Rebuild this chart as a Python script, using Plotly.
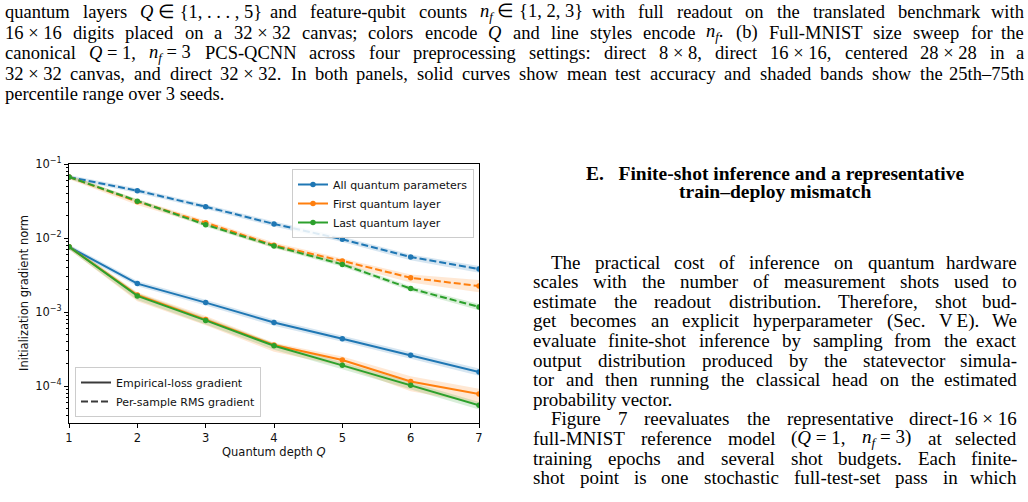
import re
import plotly.graph_objects as go

# ---------------- data ----------------
depth = [1, 2, 3, 4, 5, 6, 7]

# Empirical-loss gradient (solid curves)
all_emp = [0.0076, 0.00242, 0.00134, 0.00072, 0.000436, 0.00026, 0.000155]
all_emp_lo = [0.0070, 0.00222, 0.00122, 0.00065, 0.000395, 0.000235, 0.000138]
all_emp_hi = [0.0082, 0.00262, 0.00146, 0.00079, 0.000478, 0.000285, 0.000172]
first_emp = [0.0076, 0.00170, 0.00079, 0.000358, 0.000224, 0.000115, 0.000078]
first_emp_lo = [0.0070, 0.00140, 0.00066, 0.000290, 0.000185, 0.000085, 0.000058]
first_emp_hi = [0.0082, 0.00185, 0.00088, 0.000385, 0.000250, 0.000135, 0.000092]
last_emp = [0.0076, 0.00165, 0.00077, 0.000350, 0.000190, 0.000102, 0.000055]
last_emp_lo = [0.0070, 0.00145, 0.00068, 0.000310, 0.000168, 0.000090, 0.000048]
last_emp_hi = [0.0082, 0.00180, 0.00084, 0.000380, 0.000210, 0.000113, 0.000061]

# Per-sample RMS gradient (dashed curves)
all_rms = [0.0667, 0.0436, 0.0265, 0.0155, 0.0096, 0.00553, 0.0038]
all_rms_lo = [0.0625, 0.0405, 0.0246, 0.0143, 0.0088, 0.0050, 0.0034]
all_rms_hi = [0.0710, 0.0468, 0.0284, 0.0167, 0.0104, 0.0060, 0.0042]
first_rms = [0.0667, 0.0310, 0.0161, 0.0080, 0.0049, 0.0029, 0.00224]
first_rms_lo = [0.0620, 0.0280, 0.0148, 0.0073, 0.0044, 0.0025, 0.00185]
first_rms_hi = [0.0710, 0.0335, 0.0172, 0.0087, 0.0053, 0.0032, 0.0027]
last_rms = [0.0667, 0.0315, 0.0151, 0.0078, 0.0044, 0.00207, 0.00117]
last_rms_lo = [0.0630, 0.0298, 0.0142, 0.0073, 0.0041, 0.00192, 0.00106]
last_rms_hi = [0.0705, 0.0332, 0.0160, 0.0083, 0.0047, 0.00222, 0.00128]

series_names = ["All quantum parameters", "First quantum layer", "Last quantum layer"]
style_names = ["Empirical-loss gradient", "Per-sample RMS gradient"]
x_ticks = [1, 2, 3, 4, 5, 6, 7]
y_ticks = [1e-4, 1e-3, 1e-2, 1e-1]
y_ticktext = ["10<sup>−4</sup>", "10<sup>−3</sup>", "10<sup>−2</sup>", "10<sup>−1</sup>"]
y_minor_ticks = [m * 10.0 ** e for e in (-5, -4, -3, -2) for m in range(2, 10)]

caption_lines = [
    "quantum layers <i>Q</i>~∈~{1,~.~.~.~,~5} and feature-qubit counts <i>n<sub>f</sub></i>~∈~{1,~2,~3} with full readout on the translated benchmark with",
    "16~×~16 digits placed on a 32~×~32 canvas; colors encode <i>Q</i> and line styles encode <i>n<sub>f</sub></i>. (b) Full-MNIST size sweep for the",
    "canonical <i>Q</i>~=~1, <i>n<sub>f</sub></i>~=~3 PCS-QCNN across four preprocessing settings: direct 8~×~8, direct 16~×~16, centered 28~×~28 in a",
    "32~×~32 canvas, and direct 32~×~32. In both panels, solid curves show mean test accuracy and shaded bands show the 25th–75th",
    "percentile range over 3 seeds.",
]
heading_lines = ["E.\u00a0\u00a0\u00a0Finite-shot inference and a representative", "train–deploy mismatch"]
body_lines = [
    "The practical cost of inference on quantum hardware",
    "scales with the number of measurement shots used to",
    "estimate the readout distribution. Therefore, shot bud-",
    "get becomes an explicit hyperparameter (Sec. V\u2009E). We",
    "evaluate finite-shot inference by sampling from the exact",
    "output distribution produced by the statevector simula-",
    "tor and then running the classical head on the estimated",
    "probability vector.",
    "Figure 7 reevaluates the representative direct-16~×~16",
    "full-MNIST reference model (<i>Q</i>~=~1, <i>n<sub>f</sub></i>~=~3) at selected",
    "training epochs and several shot budgets. Each finite-",
    "shot point is one stochastic full-test-set pass in which",
]
body_indent = [True, False, False, False, False, False, False, False, True, False, False, False]
body_justify = [True, True, True, True, True, True, True, False, True, True, True, True]

# ---------------- layout geometry ----------------
W, H = 1028, 502
PL, PR, PT, PB = 69, 479, 164, 423


def fx(px):
    return (px - PL) / (PR - PL)


def fy(py):
    return (PB - py) / (PB - PT)


colors = ["#1f77b4", "#ff7f0e", "#2ca02c"]
fills = ["rgba(31,119,180,0.18)", "rgba(255,127,14,0.18)", "rgba(44,160,44,0.18)"]

fig = go.Figure()

emp = [(all_emp, all_emp_lo, all_emp_hi), (first_emp, first_emp_lo, first_emp_hi),
       (last_emp, last_emp_lo, last_emp_hi)]
rms = [(all_rms, all_rms_lo, all_rms_hi), (first_rms, first_rms_lo, first_rms_hi),
       (last_rms, last_rms_lo, last_rms_hi)]

# bands
for group in (emp, rms):
    for i, (m, lo, hi) in enumerate(group):
        fig.add_trace(go.Scatter(x=depth, y=lo, mode="lines", line=dict(width=0),
                                 showlegend=False, hoverinfo="skip"))
        fig.add_trace(go.Scatter(x=depth, y=hi, mode="lines", line=dict(width=0),
                                 fill="tonexty", fillcolor=fills[i],
                                 showlegend=False, hoverinfo="skip"))

# mean curves
for i, (m, lo, hi) in enumerate(emp):
    fig.add_trace(go.Scatter(x=depth, y=m, mode="lines+markers", name=series_names[i],
                             line=dict(color=colors[i], width=2),
                             marker=dict(size=5.5, color=colors[i]),
                             legend="legend"))
for i, (m, lo, hi) in enumerate(rms):
    fig.add_trace(go.Scatter(x=depth, y=m, mode="lines+markers", name=series_names[i],
                             line=dict(color=colors[i], width=2, dash="7px,3px"),
                             marker=dict(size=5.5, color=colors[i]),
                             showlegend=False))

# style legend
fig.add_trace(go.Scatter(x=[None], y=[None], mode="lines", name=style_names[0],
                         line=dict(color="#3a3a3a", width=2), legend="legend2"))
fig.add_trace(go.Scatter(x=[None], y=[None], mode="lines", name=style_names[1],
                         line=dict(color="#3a3a3a", width=2, dash="7px,3px"), legend="legend2"))

tick_font = dict(family="DejaVu Sans", size=11.5, color="#111")
leg_font = dict(family="DejaVu Sans", size=11, color="#111")

fig.update_layout(
    width=W, height=H,
    margin=dict(l=PL, r=W - PR, t=PT, b=H - PB, pad=0),
    paper_bgcolor="white", plot_bgcolor="white",
    font=tick_font,
    xaxis=dict(range=[1, 7], tickvals=x_ticks, ticks="outside", ticklen=4, tickcolor="black",
               showline=True, linecolor="black", linewidth=1, mirror=True, showgrid=False,
               zeroline=False, tickfont=tick_font),
    yaxis=dict(type="log", range=[-4.5, -1], tickmode="array", tickvals=y_ticks,
               ticktext=y_ticktext,
               ticks="outside", ticklen=4, tickcolor="black", showline=True, linecolor="black",
               linewidth=1, mirror=True, showgrid=False, zeroline=False, tickfont=tick_font,
               minor=dict(tickmode="array", tickvals=y_minor_ticks, ticks="outside", ticklen=2,
                          tickcolor="black", showgrid=False)),
    legend=dict(x=fx(474), y=fy(169), xanchor="right", yanchor="top", traceorder="normal",
                bgcolor="rgba(255,255,255,0.85)", bordercolor="#cccccc", borderwidth=1,
                font=leg_font, tracegroupgap=0),
    legend2=dict(x=fx(75), y=fy(417), xanchor="left", yanchor="bottom", traceorder="normal",
                 bgcolor="rgba(255,255,255,0.85)", bordercolor="#cccccc", borderwidth=1,
                 font=leg_font, tracegroupgap=0),
    showlegend=True,
)

annotations = []
annotations.append(dict(text="Initialization gradient norm", textangle=-90, x=fx(24), y=fy(293),
                        xref="paper", yref="paper", showarrow=False, xanchor="center",
                        yanchor="middle", font=tick_font))
annotations.append(dict(text="Quantum depth <i>Q</i>", x=fx(274), y=fy(452),
                        xref="paper", yref="paper", showarrow=False, xanchor="center",
                        yanchor="middle", font=tick_font))

# ---------------- text (Times metrics, Liberation Serif) ----------------
TW = {' ': 250, '!': 333, '(': 333, ')': 333, ',': 250, '-': 333, '.': 250, '/': 278,
      ':': 278, ';': 278, '=': 564, '{': 480, '}': 480, '–': 500, '×': 564, '∈': 650,
      '\u2009': 167, '\u00a0': 250}
for d in "0123456789":
    TW[d] = 500
TW.update(dict(zip("ABCDEFGHIJKLMNOPQRSTUVWXYZ",
                   [722, 667, 667, 722, 611, 556, 722, 722, 333, 389, 722, 611, 889, 722, 722,
                    556, 722, 667, 556, 611, 722, 722, 944, 722, 722, 611])))
TW.update(dict(zip("abcdefghijklmnopqrstuvwxyz",
                   [444, 500, 444, 500, 444, 333, 500, 500, 278, 278, 500, 278, 778, 500, 500,
                    500, 500, 333, 389, 278, 500, 500, 722, 500, 500, 444])))


def em_width(markup):
    total = 0.0
    scale = 1.0
    for part in re.split(r'(<[^>]+>)', markup):
        if part.startswith('<'):
            if part == '<sub>':
                scale = 0.7
            elif part == '</sub>':
                scale = 1.0
            continue
        for ch in part:
            total += TW.get(ch, 500) * scale
    return total / 1000.0


SERIF = "Liberation Serif"


def place_line(line, y, x0, x1, size, justify=True):
    toks = [t.replace('~', ' ') for t in line.split(' ')]
    font = dict(family=SERIF, size=size, color="black")
    if not justify or len(toks) < 2:
        annotations.append(dict(text=' '.join(toks), x=fx(x0), y=fy(y), xref="paper", yref="paper",
                                showarrow=False, xanchor="left", yanchor="middle", font=font,
                                borderpad=0))
        return
    widths = [em_width(t) * size for t in toks]
    gap = (x1 - x0 - sum(widths)) / (len(toks) - 1)
    x = x0
    for i, t in enumerate(toks):
        if i == len(toks) - 1:
            annotations.append(dict(text=t, x=fx(x1), y=fy(y), xref="paper", yref="paper",
                                    showarrow=False, xanchor="right", yanchor="middle", font=font,
                                    borderpad=0))
        else:
            annotations.append(dict(text=t, x=fx(x), y=fy(y), xref="paper", yref="paper",
                                    showarrow=False, xanchor="left", yanchor="middle", font=font,
                                    borderpad=0))
        x += widths[i] + gap


# caption
cap_size = 18.5
for k, line in enumerate(caption_lines):
    place_line(line, 12 + 20.6 * k, 4, 1025, cap_size, justify=(k < len(caption_lines) - 1))

# heading
for k, line in enumerate(heading_lines):
    annotations.append(dict(text="<b>" + line + "</b>", x=fx(775), y=fy(173 + 18.5 * k),
                            xref="paper", yref="paper", showarrow=False, xanchor="center",
                            yanchor="middle", font=dict(family=SERIF, size=19.5, color="black")))

# body
body_size = 19
for k, line in enumerate(body_lines):
    x0 = 550 if body_indent[k] else 532
    place_line(line, 262 + 19.6 * k, x0, 1018, body_size, justify=body_justify[k])

fig.update_layout(annotations=annotations)
fig.write_html("out.html")
